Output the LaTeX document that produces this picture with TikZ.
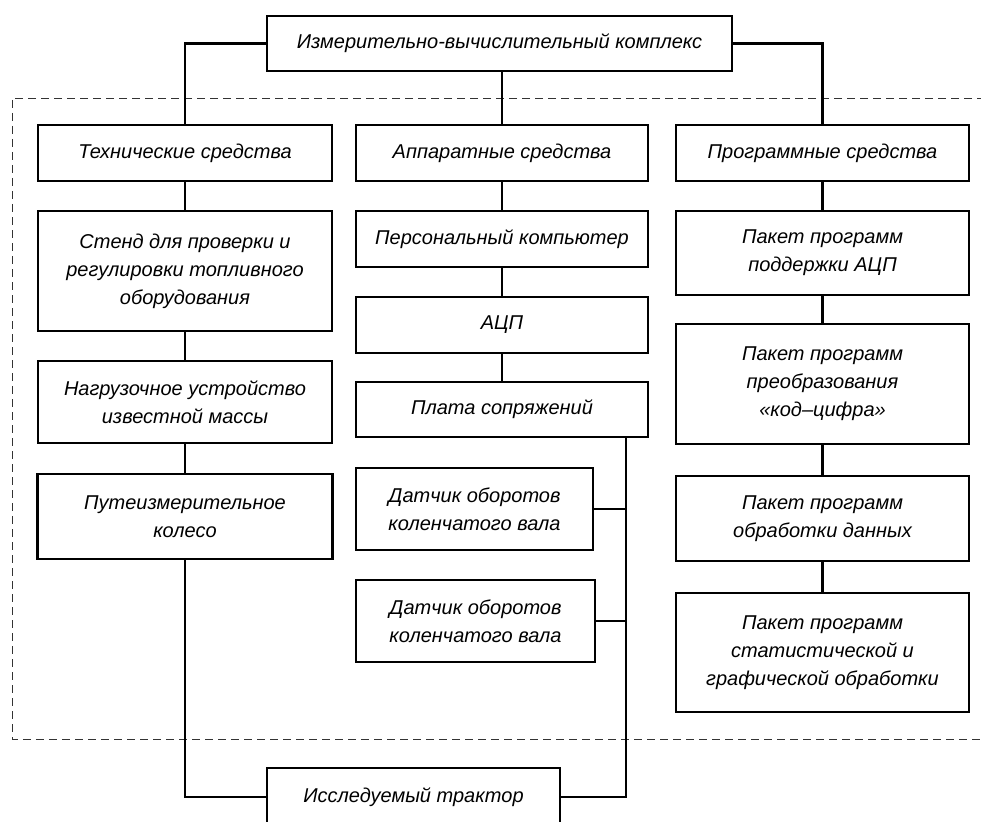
\documentclass[tikz,border=0pt]{standalone}
\usepackage{fontspec}
\setmainfont{Liberation Sans}
\tikzset{
	blok/.style={draw,line width=2.3pt,align=center,inner sep=2pt,
		font=\itshape\fontsize{20}{28}\selectfont},
	svyaz/.style={line width=2.3pt},
	ramka/.style={line width=0.9pt,dash pattern=on 8pt off 5pt,black!80}
}
\begin{document}
\begin{tikzpicture}[x=1pt,y=-1pt]
	\useasboundingbox (0,0) rectangle (981,821);
	
	% dashed frame around the complex
	\coordinate (Fone) at (985,98);
	\coordinate (Ftwo) at (12,739);
	\coordinate (Fthree) at (985,739);
	\draw[ramka] (Fone) -| (Ftwo) -- (Fthree);
	
	\node[blok,minimum width=465,minimum height=55] (top) at (499.5,43.5) {Измерительно-вычислительный комплекс};
	
	\node[blok,minimum width=294,minimum height=56] (tech) at (185,153) {Технические средства};
	\node[blok,minimum width=292,minimum height=56] (app) at (502,153) {Аппаратные средства};
	\node[blok,minimum width=293,minimum height=56] (prog) at (822.5,153) {Программные средства};
	
	% left column
	\node[blok,minimum width=294,minimum height=120] (stend) at (185,271) {Стенд для проверки и\\регулировки топливного\\оборудования};
	\node[blok,minimum width=294,minimum height=82] (nagr) at (185,402) {Нагрузочное устройство\\известной массы};
	\node[blok,minimum width=295,minimum height=85] (puti) at (185,516.5) {Путеизмерительное\\колесо};
	
	% middle column
	\node[blok,minimum width=292,minimum height=56] (pers) at (502,239) {Персональный компьютер};
	\node[blok,minimum width=292,minimum height=56] (adc) at (502,325) {АЦП};
	\node[blok,minimum width=292,minimum height=55] (plata) at (502,409.5) {Плата сопряжений};
	\node[blok,minimum width=237,minimum height=82] (datone) at (474.5,509) {Датчик оборотов\\коленчатого вала};
	\node[blok,minimum width=239,minimum height=82] (dattwo) at (475.5,621) {Датчик оборотов\\коленчатого вала};
	
	% right column
	\node[blok,minimum width=293,minimum height=84] (pakone) at (822.5,253) {Пакет программ\\поддержки АЦП};
	\node[blok,minimum width=293,minimum height=120] (paktwo) at (822.5,384) {Пакет программ\\преобразования\\«код–цифра»};
	\node[blok,minimum width=293,minimum height=85] (pakthree) at (822.5,518.5) {Пакет программ\\обработки данных};
	\node[blok,minimum width=293,minimum height=119] (pakfour) at (822.5,652.5) {Пакет программ\\статистической и\\графической обработки};
	
	\node[blok,minimum width=293,minimum height=58] (trak) at (413.5,797) {Исследуемый трактор};
	
	\coordinate (bus) at (626,0);
	
	\draw[svyaz] (top.west) -| (tech.north);
	\draw[svyaz] (top.east) -| (prog.north);
	\draw[svyaz] (app.north |- top.south) -- (app.north);
	
	\draw[svyaz] (tech.south) -- (stend.north);
	\draw[svyaz] (stend.south) -- (nagr.north);
	\draw[svyaz] (nagr.south) -- (puti.north);
	\draw[svyaz] (puti.south) |- (trak.west);
	
	\draw[svyaz] (app.south) -- (pers.north);
	\draw[svyaz] (pers.south) -- (adc.north);
	\draw[svyaz] (adc.south) -- (plata.north);
	\draw[svyaz] (plata.south -| bus) |- (trak.east);
	\draw[svyaz] (datone.east) -- (datone.east -| bus);
	\draw[svyaz] (dattwo.east) -- (dattwo.east -| bus);
	
	\draw[svyaz] (prog.south) -- (pakone.north);
	\draw[svyaz] (pakone.south) -- (paktwo.north);
	\draw[svyaz] (paktwo.south) -- (pakthree.north);
	\draw[svyaz] (pakthree.south) -- (pakfour.north);
\end{tikzpicture}
\end{document}
